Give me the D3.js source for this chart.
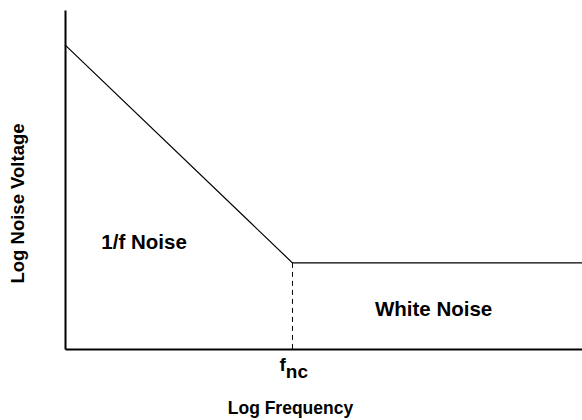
<!DOCTYPE html>
<html>
<head>
<meta charset="utf-8">
<script src="https://cdn.jsdelivr.net/npm/d3@7"></script>
<style>
    body { margin: 0; background: #fff; }
    text { font-family: "Liberation Sans", Arial, sans-serif; font-weight: bold; fill: #000; }
</style>
</head>
<body>
<div id="chart"></div>
<script>
// noise spectrum, both axes in log units (0..100)
const logFreq = [0, 44, 100];
const logNoise = [89.7, 25.4, 25.4];
const cornerFreq = 44;

const regionLabels = ["1/f Noise", "White Noise"];
const regionFreq = [15.3, 71.3];
const regionNoise = [29.5, 9.7];

const xTitle = "Log Frequency";
const yTitle = "Log Noise Voltage";

let width = 582, height = 420;
let margin = {top: 10, right: 0, bottom: 71, left: 65};

let svg = d3.select("#chart").append("svg")
    .attr("width", width)
    .attr("height", height);

let x = d3.scaleLinear()
    .domain([0, 100])
    .range([margin.left, width - margin.right]);

let y = d3.scaleLinear()
    .domain([0, 100])
    .range([height - margin.bottom, margin.top]);

// axes as plain lines, no ticks
svg.append("g")
    .attr("transform", `translate(0,${y(0)})`)
    .call(d3.axisBottom(x).ticks(0).tickSizeOuter(0))
    .call(g => g.select(".domain").attr("stroke-width", 2));

svg.append("g")
    .attr("transform", `translate(${x(0)},0)`)
    .call(d3.axisLeft(y).ticks(0).tickSizeOuter(0))
    .call(g => g.select(".domain").attr("stroke-width", 2));

// dashed drop line at the corner frequency
svg.append("line")
    .attr("x1", x(cornerFreq)).attr("x2", x(cornerFreq))
    .attr("y1", y(logNoise[1])).attr("y2", y(0))
    .attr("stroke", "#000")
    .attr("stroke-dasharray", "5,4");

let line = d3.line()
    .x((d, i) => x(logFreq[i]))
    .y(d => y(d));

svg.append("path")
    .datum(logNoise)
    .attr("d", line)
    .attr("fill", "none")
    .attr("stroke", "#000")
    .attr("stroke-width", 1.2);

// region labels
svg.selectAll(".region")
    .data(regionLabels)
    .enter().append("text")
    .attr("class", "region")
    .attr("x", (d, i) => x(regionFreq[i]))
    .attr("y", (d, i) => y(regionNoise[i]))
    .attr("text-anchor", "middle")
    .attr("font-size", 20.5)
    .text(d => d);

// f_nc tick label
let fnc = svg.append("text")
    .attr("x", x(cornerFreq) - 13)
    .attr("y", y(0) + 22)
    .attr("font-size", 19)
    .attr("font-weight", "normal");
fnc.append("tspan").text("f");
fnc.append("tspan").attr("dy", 7).attr("font-weight", "bold").text("nc");

// axis titles
svg.append("text")
    .attr("x", x(cornerFreq) - 2)
    .attr("y", height - 6)
    .attr("text-anchor", "middle")
    .attr("font-size", 17.5)
    .text(xTitle);

svg.append("text")
    .attr("transform", `translate(24,${(y(0) + y(100)) / 2 + 24}) rotate(-90)`)
    .attr("text-anchor", "middle")
    .attr("font-size", 18.5)
    .text(yTitle);
</script>
</body>
</html>
